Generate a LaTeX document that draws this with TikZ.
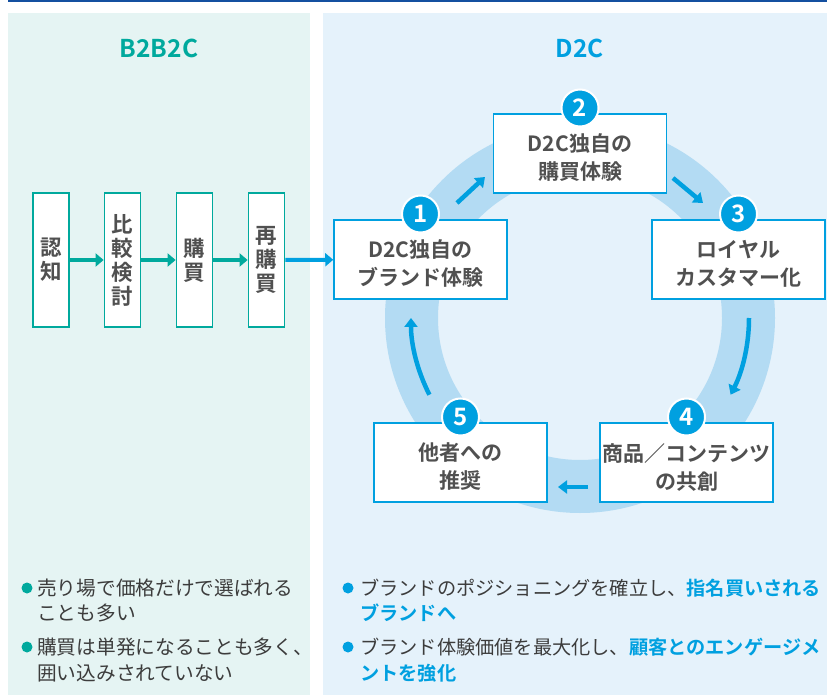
\documentclass[tikz,border=0pt]{standalone}
\usepackage{fontspec}
\setmainfont{Noto Sans CJK JP}[BoldFont={Noto Sans CJK JP Bold}]
\usetikzlibrary{arrows.meta}
\definecolor{topline}{HTML}{1450A0}
\definecolor{leftbg}{HTML}{E5F4F3}
\definecolor{rightbg}{HTML}{E5F2FB}
\definecolor{tealc}{HTML}{00A99D}
\definecolor{cyanc}{HTML}{00A0E0}
\definecolor{ringc}{HTML}{B3DBF3}
\definecolor{boxtext}{HTML}{505050}
\definecolor{bodytext}{HTML}{3C3C3C}
\newcommand{\dnl}[1]{\raisebox{-4.5pt}[\height][\depth]{#1}}
\begin{document}
\begin{tikzpicture}[x=1pt,y=-1pt,
  lbox/.style={draw=tealc, line width=1.8pt, fill=white, minimum width=36pt, minimum height=134pt,
    inner sep=0pt, align=center, font=\bfseries\fontsize{21.5}{24}\selectfont, text=boxtext},
  dbox/.style={draw=cyanc, line width=1.5pt, fill=white, minimum width=173pt, minimum height=79pt,
    inner sep=0pt, align=center, font=\bfseries\fontsize{21}{28}\selectfont, text=boxtext},
  badge/.style={circle, fill=cyanc, draw=white, line width=2pt, minimum size=37pt, inner sep=0pt,
    text=white, font=\bfseries\fontsize{24}{24}\selectfont},
  larrow/.style={tealc, line width=4pt, -{Triangle[length=8pt,width=13pt]}},
  carrow/.style={cyanc, line width=4.5pt, -{Triangle[length=9pt,width=13pt]}},
  bul/.style={circle, minimum size=11pt, inner sep=0pt},
  ltxt/.style={anchor=base west, inner sep=0pt, text=bodytext, font=\fontsize{19.7}{24}\selectfont},
  rtxt/.style={anchor=base west, inner sep=0pt, text=bodytext, font=\fontsize{19.2}{24}\selectfont}]
\useasboundingbox (0,0) rectangle (827,695);
% panels
\fill[leftbg] (8,13) rectangle (310,695);
\fill[rightbg] (323,13) rectangle (827,695);
\draw[topline, line width=2pt] (8,0.8) -- (827,0.8);
% titles
\node[font=\bfseries\fontsize{24.5}{28}\selectfont, text=tealc] (t1) at (159,48) {B2B2C};
\node[font=\bfseries\fontsize{24.5}{28}\selectfont, text=cyanc] (t2) at (580,48) {D2C};
% ring
\coordinate (rc) at (580,318);
\draw[ringc, line width=53pt] (rc) circle[radius=168.5];
% left flow
\node[lbox] (b1) at (51,260) {認\\知};
\node[lbox] (b2) at (122.5,260) {比\\較\\検\\討};
\node[lbox] (b3) at (194.5,260) {購\\買};
\node[lbox] (b4) at (266.5,260) {再\\購\\買};
% cycle boxes
\node[dbox] (d1) at (420.5,259.5) {\dnl{D2C独自の}\\\dnl{ブランド体験}};
\node[dbox] (d2) at (580,153.5) {\dnl{D2C独自の}\\\dnl{購買体験}};
\node[dbox] (d3) at (738.5,259.5) {\dnl{ロイヤル}\\\dnl{カスタマー化}};
\node[dbox] (d4) at (686.5,462.5) {\dnl{商品／コンテンツ}\\\dnl{の共創}};
\node[dbox] (d5) at (460.5,462.5) {\dnl{他者への}\\\dnl{推奨}};
% left arrows
\draw[larrow] (b1) -- (b2);
\draw[larrow] (b2) -- (b3);
\draw[larrow] (b3) -- (b4);
\draw[carrow, line width=4pt, -{Triangle[length=8pt,width=13pt]}] (b4) -- (d1);
% cycle arrows
\coordinate (a1s) at (457,203);
\coordinate (a1e) at (485,177);
\coordinate (a2s) at (673,178);
\coordinate (a2e) at (703,203);
\coordinate (a3s) at (749,318);
\coordinate (a4s) at (588,487);
\coordinate (a4e) at (558,487);
\coordinate (a5s) at (429.4,394.7);
\draw[carrow] (a1s) -- (a1e);
\draw[carrow] (a2s) -- (a2e);
\draw[carrow] (a3s) arc[start angle=0, end angle=27, radius=169];
\draw[carrow] (a4s) -- (a4e);
\draw[carrow] (a5s) arc[start angle=153, end angle=180, radius=169];
% badges
\node[badge] (n1) at (420.5,214) {1};
\node[badge] (n2) at (580,108) {2};
\node[badge] (n3) at (738.5,214) {3};
\node[badge] (n4) at (686.5,417) {4};
\node[badge] (n5) at (460.5,417) {5};
% bullets left
\node[bul, fill=tealc] (p1) at (27,588) {};
\node[bul, fill=tealc] (p2) at (27,647) {};
\node[ltxt] (l1) at (37,595.4) {売り場で価格だけで選ばれる};
\node[ltxt] (l2) at (37,620.4) {ことも多い};
\node[ltxt] (l3) at (37,654.4) {購買は単発になることも多く、};
\node[ltxt] (l4) at (37,680.4) {囲い込みされていない};
% bullets right
\node[bul, fill=cyanc] (q1) at (348,588) {};
\node[bul, fill=cyanc] (q2) at (348,647) {};
\node[rtxt] (r1) at (360,595.4) {ブランドのポジショニングを確立し、\textcolor{cyanc}{\bfseries 指名買いされる}};
\node[rtxt, text=cyanc, font=\bfseries\fontsize{19.2}{24}\selectfont] (r2) at (360,620.4) {ブランドへ};
\node[rtxt] (r3) at (360,654.4) {ブランド体験価値を最大化し、\textcolor{cyanc}{\bfseries 顧客とのエンゲージメ}};
\node[rtxt, text=cyanc, font=\bfseries\fontsize{19.2}{24}\selectfont] (r4) at (360,680.4) {ントを強化};
\end{tikzpicture}
\end{document}
